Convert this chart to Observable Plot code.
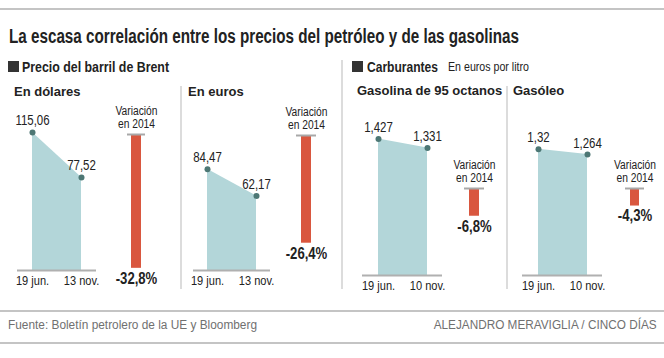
<!DOCTYPE html>
<html>
<head>
<meta charset="utf-8">
<script src="https://cdn.jsdelivr.net/npm/d3@7"></script>
<script src="https://cdn.jsdelivr.net/npm/@observablehq/plot@0.6"></script>
<style>
  body { margin: 0; background: #fff; }
  #chart { position: relative; width: 664px; height: 358px; overflow: hidden; background: #fff;
           font-family: "Liberation Sans", Arial, Helvetica, sans-serif; color: #222; }
  #chart > * { position: absolute; }
  .t { white-space: nowrap; }
</style>
</head>
<body>
<div id="chart"></div>
<script>
// ---------- data ----------
const title = "La escasa correlación entre los precios del petróleo y de las gasolinas";
const sectionTitles = ["Precio del barril de Brent", "Carburantes"];
const sectionNote = "En euros por litro";
const panelTitles = ["En dólares", "En euros", "Gasolina de 95 octanos", "Gasóleo"];
const datesBrent = ["19 jun.", "13 nov."];
const datesFuel = ["19 jun.", "10 nov."];
const brentDolares = [115.06, 77.52];
const brentEuros = [84.47, 62.17];
const gasolina95 = [1.427, 1.331];
const gasoleo = [1.32, 1.264];
const variacion2014 = [-32.8, -26.4, -6.8, -4.3];
const variacionLabel = "Variación\nen 2014";
const source = "Fuente: Boletín petrolero de la UE y Bloomberg";
const credit = "ALEJANDRO MERAVIGLIA / CINCO DÍAS";

// ---------- layout ----------
const W = 664, H = 358;
const FONT = '"Liberation Sans", Arial, Helvetica, sans-serif';
const chart = document.getElementById("chart");
const fmtNum = v => String(v).replace(".", ",");
const fmtPct = v => v.toFixed(1).replace(".", ",") + "%";

function div(style, text) {
  const e = document.createElement("div");
  Object.assign(e.style, style);
  if (text != null) { e.className = "t"; e.textContent = text; }
  chart.appendChild(e);
  return e;
}
// text placed by baseline; optional fit width (horizontal condensing)
function label(text, x, baseline, size, weight, color, opts = {}) {
  const s = { top: (baseline - 0.85 * size) + "px", fontSize: size + "px", lineHeight: size + "px",
              fontWeight: weight || "normal", color: color || "#222" };
  if (opts.right) s.right = (W - x) + "px"; else s.left = x + "px";
  const e = div(s, text);
  let k = opts.scale || 1;
  if (opts.fit) k = opts.fit / e.getBoundingClientRect().width;
  if (k !== 1) {
    e.style.transform = `scaleX(${k})`;
    e.style.transformOrigin = opts.right ? "right center" : "left center";
  }
  return e;
}
function hline(y, c) { div({ left: "0px", top: y + "px", width: W + "px", height: "1.5px", background: c || "#c4c4c4" }); }
function vline(x, y1, y2) { div({ left: x + "px", top: y1 + "px", width: "1.5px", height: (y2 - y1) + "px", background: "#dcdcdc" }); }

hline(8);
hline(310);
hline(342);
label(title, 9, 44, 19.5, "bold", "#222", { fit: 510 });

div({ left: "8px", top: "61px", width: "11px", height: "11px", background: "#333" });
label(sectionTitles[0], 22, 72, 15, "bold", "#222", { fit: 147 });
div({ left: "352px", top: "61px", width: "11px", height: "11px", background: "#333" });
label(sectionTitles[1], 367, 72, 15, "bold", "#222", { fit: 71 });
label(sectionNote, 448, 72, 12.5, "normal", "#222", { fit: 81 });

label(panelTitles[0], 14, 96, 13, "bold");
label(panelTitles[1], 188, 96, 13, "bold");
label(panelTitles[2], 357, 95, 13, "bold");
label(panelTitles[3], 513, 95, 13, "bold");

vline(180, 86, 289);
vline(341, 60, 289);
vline(506, 86, 289);

label(source, 8, 330, 12.5, "normal", "#707070", { fit: 249 });
label(credit, 657, 330, 12.5, "normal", "#707070", { right: true, fit: 223 });

// ---------- plots ----------
function areaPanel(dates, values, c) {
  const data = dates.map((d, i) => ({ date: d, value: values[i] }));
  return Plot.plot({
    width: W, height: H,
    marginLeft: c.r1, marginRight: W - c.r2, marginTop: 0, marginBottom: H - c.base,
    style: { background: "transparent", fontFamily: FONT, fontSize: "13.5px", color: "#222" },
    x: { type: "point", domain: dates, range: [c.a1, c.a2], padding: 0, axis: "bottom", tickSize: 0, tickPadding: 5, label: null },
    y: { domain: [0, 1], range: [c.base, c.base - c.ppu], axis: null },
    marks: [
      Plot.areaY(data, { x: "date", y: "value", fill: "#b3d6d9" }),
      Plot.ruleY([0], { stroke: "#b0b0b0", strokeWidth: 2 }),
      Plot.dot(data, { x: "date", y: "value", r: 3, fill: "#4d7774", stroke: "none" }),
      Plot.text(data, { x: "date", y: "value", text: d => fmtNum(d.value), lineAnchor: "bottom", dy: -7, fontSize: 14, fill: "#222" })
    ]
  });
}
function barPanel(v, c) {
  const data = [{ k: variacionLabel, v }];
  return Plot.plot({
    width: W, height: H,
    marginLeft: c.c1, marginRight: W - c.c2, marginTop: 0, marginBottom: 0,
    style: { background: "transparent", fontFamily: FONT, fontSize: "12.5px", color: "#222" },
    x: { type: "band", domain: [variacionLabel], range: [c.b1, c.b2], padding: 0, axis: null },
    y: { domain: [0, -1], range: [c.top, c.top + 4.08], axis: null },
    marks: [
      Plot.barY(data, { x: "k", y: "v", fill: "#d9573f" }),
      Plot.ruleY([0], { stroke: "#a8a8a8", strokeWidth: 2 }),
      Plot.text(data, { x: "k", y: 0, text: "k", lineAnchor: "bottom", lineHeight: 1, dy: -7, fontSize: 12.5, fill: "#222" }),
      Plot.text(data, { x: "k", y: "v", text: d => fmtPct(d.v), lineAnchor: "top", dy: 4, fontSize: 16, fontWeight: "bold", fill: "#222" })
    ]
  });
}

const plots = [
  areaPanel(datesBrent, brentDolares, { r1: 17, r2: 96, a1: 32, a2: 81, base: 270, ppu: 1.2 }),
  barPanel(variacion2014[0], { c1: 127, c2: 145, b1: 131, b2: 141, top: 134 }),
  areaPanel(datesBrent, brentEuros, { r1: 193, r2: 270, a1: 207, a2: 256, base: 270, ppu: 1.2 }),
  barPanel(variacion2014[1], { c1: 296, c2: 316, b1: 301, b2: 311, top: 135 }),
  areaPanel(datesFuel, gasolina95, { r1: 362, r2: 442, a1: 378, a2: 427, base: 275, ppu: 95.7 }),
  barPanel(variacion2014[2], { c1: 464, c2: 484, b1: 469, b2: 479, top: 188 }),
  areaPanel(datesFuel, gasoleo, { r1: 522, r2: 602, a1: 538, a2: 587, base: 275, ppu: 95.7 }),
  barPanel(variacion2014[3], { c1: 625, c2: 644, b1: 630, b2: 639, top: 188 })
];
const CONDENSE = 0.82;
for (const p of plots) {
  p.style.position = "absolute";
  p.style.left = "0px";
  p.style.top = "0px";
  chart.appendChild(p);
  // condense the library's texts horizontally around their anchor
  p.querySelectorAll("text").forEach(t => {
    const tr = t.getAttribute("transform");
    if (tr) t.setAttribute("transform", tr + ` scale(${CONDENSE},1)`);
  });
}
</script>
</body>
</html>
